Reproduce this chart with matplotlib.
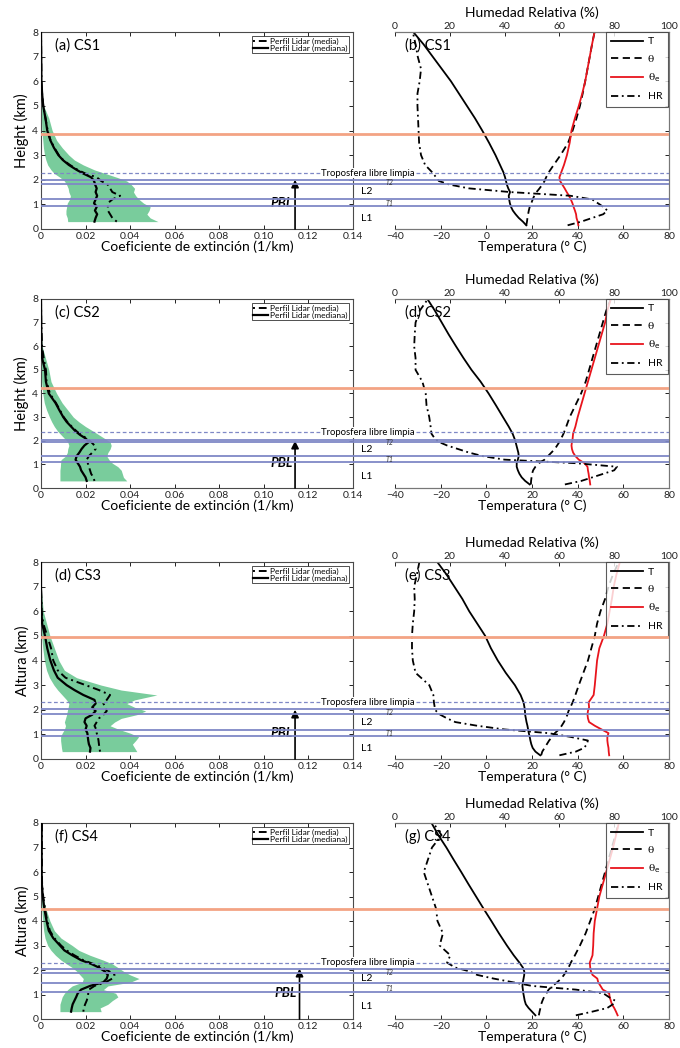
import matplotlib
matplotlib.use("Agg")
import matplotlib.pyplot as plt
import numpy as np

plt.rcParams['font.family'] = ['Lato', 'DejaVu Sans']
plt.rcParams['mathtext.fontset'] = 'dejavusans'

# ---------------- data ----------------
cases = ["CS1", "CS2", "CS3", "CS4"]
left_tags = ["(a)", "(c)", "(d)", "(f)"]
right_tags = ["(b)", "(d)", "(e)", "(g)"]
ylabels = ["Height (km)", "Height (km)", "Altura (km)", "Altura (km)"]

# lidar heights (km)
alt_lidar = [0.3, 0.45, 0.6, 0.75, 0.9, 1.05, 1.2, 1.35, 1.5, 1.65, 1.8, 1.95, 2.1,
             2.25, 2.4, 2.6, 2.8, 3.0, 3.3, 3.6, 4.0, 4.5, 5.0, 5.5, 6.0, 7.0, 8.0]

median_cs1 = [0.0240, 0.0245, 0.0252, 0.0242, 0.0250, 0.0238, 0.0245, 0.0252, 0.0245, 0.0250, 0.0243, 0.0238, 0.0225,
              0.0190, 0.0160, 0.0125, 0.0098, 0.0078, 0.0058, 0.0042, 0.0028, 0.0020, 0.0010, 0.0005, 0.0002, 0.0001, 0.0]
mean_cs1 = [0.0340, 0.0320, 0.0310, 0.0300, 0.0300, 0.0300, 0.0320, 0.0355, 0.0320, 0.0310, 0.0300, 0.0270, 0.0250,
            0.0200, 0.0165, 0.0130, 0.0100, 0.0080, 0.0060, 0.0043, 0.0030, 0.0020, 0.0010, 0.0005, 0.0002, 0.0001, 0.0]
low_cs1 = [0.0120, 0.0118, 0.0112, 0.0112, 0.0115, 0.0118, 0.0128, 0.0132, 0.0125, 0.0122, 0.0115, 0.0105, 0.0085,
           0.0060, 0.0045, 0.0030, 0.0022, 0.0016, 0.0011, 0.0008, 0.0004, 0.0002, 0.0, 0.0, 0.0, 0.0, 0.0]
high_cs1 = [0.0525, 0.0490, 0.0475, 0.0485, 0.0490, 0.0460, 0.0440, 0.0425, 0.0415, 0.0420, 0.0405, 0.0385, 0.0340,
            0.0290, 0.0240, 0.0190, 0.0150, 0.0125, 0.0095, 0.0070, 0.0050, 0.0035, 0.0012, 0.0003, 0.0, 0.0, 0.0]

median_cs2 = [0.0205, 0.0200, 0.0190, 0.0180, 0.0175, 0.0165, 0.0155, 0.0160, 0.0172, 0.0182, 0.0195, 0.0215, 0.0200,
              0.0175, 0.0155, 0.0135, 0.0115, 0.0100, 0.0082, 0.0065, 0.0035, 0.0022, 0.0018, 0.0005, 0.0002, 0.0001, 0.0]
mean_cs2 = [0.0240, 0.0235, 0.0225, 0.0220, 0.0215, 0.0210, 0.0205, 0.0215, 0.0230, 0.0245, 0.0240, 0.0225, 0.0205,
            0.0180, 0.0160, 0.0138, 0.0118, 0.0102, 0.0085, 0.0067, 0.0040, 0.0025, 0.0022, 0.0012, 0.0005, 0.0001, 0.0]
low_cs2 = [0.0085, 0.0085, 0.0085, 0.0085, 0.0087, 0.0088, 0.0090, 0.0110, 0.0118, 0.0120, 0.0125, 0.0120, 0.0105,
           0.0090, 0.0075, 0.0060, 0.0048, 0.0038, 0.0025, 0.0015, 0.0008, 0.0003, 0.0001, 0.0, 0.0, 0.0, 0.0]
high_cs2 = [0.0385, 0.0370, 0.0365, 0.0360, 0.0345, 0.0320, 0.0305, 0.0295, 0.0300, 0.0310, 0.0315, 0.0310, 0.0285,
            0.0260, 0.0235, 0.0200, 0.0170, 0.0145, 0.0120, 0.0095, 0.0070, 0.0045, 0.0035, 0.0020, 0.0005, 0.0, 0.0]

median_cs3 = [0.0220, 0.0222, 0.0215, 0.0212, 0.0210, 0.0208, 0.0200, 0.0205, 0.0195, 0.0200, 0.0230, 0.0245, 0.0230,
              0.0245, 0.0240, 0.0190, 0.0150, 0.0115, 0.0075, 0.0058, 0.0042, 0.0028, 0.0018, 0.0005, 0.0002, 0.0, 0.0]
mean_cs3 = [0.0265, 0.0262, 0.0260, 0.0258, 0.0255, 0.0250, 0.0248, 0.0240, 0.0250, 0.0260, 0.0280, 0.0295, 0.0290,
            0.0280, 0.0295, 0.0310, 0.0260, 0.0200, 0.0110, 0.0075, 0.0055, 0.0045, 0.0028, 0.0010, 0.0003, 0.0, 0.0]
low_cs3 = [0.0095, 0.0092, 0.0090, 0.0088, 0.0088, 0.0095, 0.0105, 0.0110, 0.0105, 0.0110, 0.0115, 0.0118, 0.0122,
           0.0125, 0.0115, 0.0095, 0.0075, 0.0058, 0.0038, 0.0025, 0.0015, 0.0008, 0.0003, 0.0001, 0.0, 0.0, 0.0]
high_cs3 = [0.0430, 0.0420, 0.0410, 0.0425, 0.0438, 0.0400, 0.0350, 0.0310, 0.0330, 0.0360, 0.0430, 0.0470, 0.0420,
            0.0385, 0.0420, 0.0520, 0.0360, 0.0270, 0.0160, 0.0105, 0.0080, 0.0060, 0.0040, 0.0025, 0.0010, 0.0, 0.0]

median_cs4 = [0.0135, 0.0138, 0.0142, 0.0150, 0.0158, 0.0165, 0.0180, 0.0220, 0.0280, 0.0295, 0.0300, 0.0285, 0.0260,
              0.0225, 0.0180, 0.0140, 0.0105, 0.0085, 0.0055, 0.0035, 0.0025, 0.0015, 0.0008, 0.0004, 0.0003, 0.0003, 0.0003]
mean_cs4 = [0.0190, 0.0192, 0.0198, 0.0205, 0.0210, 0.0212, 0.0215, 0.0240, 0.0290, 0.0320, 0.0330, 0.0305, 0.0275,
            0.0235, 0.0190, 0.0150, 0.0115, 0.0090, 0.0060, 0.0040, 0.0028, 0.0018, 0.0010, 0.0005, 0.0004, 0.0004, 0.0004]
low_cs4 = [0.0085, 0.0085, 0.0085, 0.0090, 0.0095, 0.0105, 0.0120, 0.0140, 0.0185, 0.0190, 0.0175, 0.0160, 0.0140,
           0.0115, 0.0090, 0.0065, 0.0045, 0.0030, 0.0018, 0.0012, 0.0008, 0.0004, 0.0001, 0.0, 0.0, 0.0, 0.0]
high_cs4 = [0.0270, 0.0265, 0.0300, 0.0320, 0.0345, 0.0335, 0.0280, 0.0300, 0.0400, 0.0440, 0.0400, 0.0370, 0.0345,
            0.0320, 0.0280, 0.0220, 0.0170, 0.0140, 0.0090, 0.0060, 0.0040, 0.0022, 0.0008, 0.0, 0.0, 0.0, 0.0]

# radiosonde heights (km)
alt_sonde = [0.15, 0.3, 0.45, 0.6, 0.75, 0.9, 1.05, 1.2, 1.35, 1.5, 1.65, 1.8, 1.95, 2.1,
             2.3, 2.6, 3.0, 3.5, 4.0, 4.5, 5.0, 5.5, 6.0, 6.5, 7.0, 7.5, 8.0]

T_cs1 = [17.5, 16.0, 14.2, 12.8, 11.6, 10.8, 10.3, 10.0, 9.8, 10.4, 9.6, 9.0, 8.6, 8.2,
         7.5, 6.0, 4.0, 1.2, -1.8, -5.0, -8.5, -12.0, -15.5, -19.5, -23.5, -27.5, -32.0]
theta_cs1 = [17.5, 17.8, 18.0, 18.3, 18.6, 19.0, 19.7, 20.3, 21.0, 22.0, 23.3, 24.5, 25.5, 26.2,
             27.3, 29.5, 32.5, 35.8, 37.8, 39.5, 41.0, 42.2, 43.3, 44.3, 45.3, 46.3, 47.4]
thetae_cs1 = [40.3, 40.0, 39.5, 39.3, 38.8, 38.2, 37.7, 37.0, 36.2, 35.2, 34.3, 33.3, 32.3, 32.0,
              32.8, 34.0, 35.3, 36.5, 37.3, 38.8, 40.5, 42.0, 43.3, 44.3, 45.3, 46.3, 47.4]
HR_cs1 = [63, 68, 72, 76, 77.5, 76, 74, 72, 64, 42, 27, 20, 16, 15,
          13.6, 11, 9.5, 8.8, 8.6, 8.4, 8.2, 8.2, 9.0, 9.5, 8.3, 7.5, 6.5]

T_cs2 = [19.0, 17.0, 15.5, 14.5, 13.8, 13.3, 13.3, 13.8, 14.2, 14.0, 13.6, 13.2, 12.8, 12.3,
         11.5, 9.8, 7.3, 4.2, 1.0, -2.5, -6.5, -10.0, -13.3, -16.5, -19.5, -22.5, -25.8]
theta_cs2 = [19.5, 19.6, 19.8, 20.0, 20.5, 21.5, 23.0, 25.5, 27.0, 28.5, 30.0, 31.0, 32.0, 32.8,
             33.8, 35.0, 36.5, 39.0, 41.5, 43.5, 45.0, 46.5, 48.0, 49.5, 51.0, 52.5, 54.5]
thetae_cs2 = [45.5, 45.3, 45.0, 44.8, 44.5, 44.3, 43.0, 40.5, 39.0, 38.0, 37.5, 37.3, 37.5, 37.8,
              38.0, 39.0, 40.0, 41.5, 43.0, 44.5, 46.0, 47.5, 49.0, 50.5, 52.0, 53.0, 54.5]
HR_cs2 = [62, 68, 72, 76, 80, 81, 66, 40, 32, 27, 23, 19, 16, 14.5,
          13.3, 13, 12.5, 11.5, 11.2, 10, 7.5, 7.5, 7.0, 7.2, 7.5, 9.0, 12.0]

T_cs3 = [23.6, 21.5, 20.3, 19.7, 19.3, 19.0, 18.6, 18.3, 18.0, 17.6, 17.3, 17.0, 16.9, 16.7,
         16.3, 15.0, 12.5, 8.5, 5.0, 2.0, -0.5, -4.0, -7.5, -10.5, -14.0, -17.5, -21.5]
theta_cs3 = [24.0, 24.5, 25.5, 26.5, 27.5, 28.8, 30.0, 31.8, 33.0, 34.0, 34.8, 35.5, 36.0, 36.8,
             37.8, 39.0, 40.5, 42.5, 44.5, 46.0, 47.5, 48.5, 50.0, 52.0, 53.5, 55.5, 58.0]
thetae_cs3 = [53.8, 53.6, 53.5, 53.2, 53.0, 53.0, 53.5, 50.5, 47.5, 45.0, 44.5, 44.3, 44.5, 45.0,
              44.8, 47.0, 47.5, 48.0, 48.5, 49.5, 51.5, 53.0, 54.0, 55.0, 55.8, 57.0, 58.5]
HR_cs3 = [60, 66, 69, 70, 70.4, 64, 56, 40, 30, 22, 19, 16.5, 15, 14.5,
          14.2, 14.0, 12.5, 7.5, 6.5, 6.2, 6.2, 6.5, 7.0, 7.2, 7.0, 8.0, 8.9]

T_cs4 = [21.5, 20.0, 18.5, 17.3, 16.8, 16.5, 16.2, 16.0, 15.8, 16.0, 16.3, 16.6, 16.6, 16.0,
         14.5, 12.0, 9.0, 5.5, 2.2, -1.2, -4.5, -7.8, -11.0, -14.3, -17.5, -21.0, -24.0]
theta_cs4 = [23.0, 23.3, 23.7, 24.0, 24.6, 25.3, 26.3, 27.3, 29.0, 31.0, 32.8, 34.0, 35.0, 36.0,
             37.0, 38.8, 41.0, 43.5, 45.5, 47.5, 49.0, 50.5, 52.0, 53.5, 55.0, 56.5, 58.0]
thetae_cs4 = [57.5, 56.8, 56.0, 55.0, 54.5, 54.0, 53.8, 51.0, 50.0, 49.0, 48.6, 46.5, 45.8, 45.5,
              45.3, 46.5, 46.8, 47.0, 47.5, 48.5, 49.5, 51.0, 52.5, 54.0, 55.5, 56.8, 58.0]
HR_cs4 = [66, 72, 77.5, 79.5, 80.3, 78, 76, 66, 50, 43, 36, 30, 27, 22,
          19, 20.2, 16.3, 17.5, 15.5, 15, 13.5, 12.0, 10.5, 12.0, 13.5, 17.0, 14.0]

# layer heights (km)
orange_top = [3.85, 4.25, 4.95, 4.5]
free_trop = [2.27, 2.35, 2.3, 2.3]
T2_layer = [(2.01, 1.83), (2.05, 1.93), (2.03, 1.83), (2.05, 1.86)]
T1_layer = [(1.20, 0.94), (1.35, 1.10), (1.17, 0.93), (1.45, 1.12)]
pbl_top = [2.0, 2.0, 2.0, 2.05]
pbl_x = [0.114, 0.114, 0.114, 0.116]

medians = [median_cs1, median_cs2, median_cs3, median_cs4]
means = [mean_cs1, mean_cs2, mean_cs3, mean_cs4]
lows = [low_cs1, low_cs2, low_cs3, low_cs4]
highs = [high_cs1, high_cs2, high_cs3, high_cs4]
Ts = [T_cs1, T_cs2, T_cs3, T_cs4]
thetas = [theta_cs1, theta_cs2, theta_cs3, theta_cs4]
thetaes = [thetae_cs1, thetae_cs2, thetae_cs3, thetae_cs4]
HRs = [HR_cs1, HR_cs2, HR_cs3, HR_cs4]

# ---------------- style ----------------
GREEN = '#79cc9c'
ORANGE = '#f3a384'
BLUE = '#7f88c6'
SPINE = '#4a4a4a'
NARROW = ['Liberation Sans Narrow', 'Lato', 'DejaVu Sans']

W, H = 680, 1048
fig = plt.figure(figsize=(W / 100, H / 100), dpi=100)
rows_px = [(32, 229), (299, 488), (562, 759), (823, 1019)]
L_x0, L_x1 = 41, 353
R_x0, R_x1 = 395, 669

mean_ls = (0, (1, 2, 4, 2))

for i in range(4):
    top, bot = rows_px[i]
    b = 1 - bot / H
    h = (bot - top) / H

    # ---- left panel: lidar ----
    axl = fig.add_axes([L_x0 / W, b, (L_x1 - L_x0) / W, h])
    axl.set_facecolor('none')
    axl.fill_betweenx(alt_lidar, lows[i], highs[i], color=GREEN, lw=0, zorder=1)
    axl.plot(means[i], alt_lidar, color='black', ls=mean_ls, lw=1.4, zorder=3,
             label='Perfil Lidar (media)')
    axl.plot(medians[i], alt_lidar, color='black', ls='-', lw=1.6, zorder=3,
             label='Perfil Lidar (mediana)')
    axl.set_xlim(0, 0.14)
    axl.set_ylim(0, 8)
    axl.set_xticks(np.arange(0, 0.141, 0.02))
    axl.set_xticklabels(['0', '0.02', '0.04', '0.06', '0.08', '0.10', '0.12', '0.14'])
    axl.set_yticks(range(0, 9))
    axl.tick_params(direction='in', top=True, right=True, length=3, width=0.7,
                    labelsize=7.5, colors='#222222', pad=2)
    for s in axl.spines.values():
        s.set_color(SPINE)
        s.set_linewidth(0.8)
    axl.set_xlabel('Coeficiente de extinción (1/km)', fontsize=10, labelpad=0)
    axl.set_ylabel(ylabels[i], fontsize=10.5, labelpad=2)
    axl.text(0.045, 0.93, f'{left_tags[i]} {cases[i]}', transform=axl.transAxes,
             fontsize=10.5, va='center', ha='left')
    leg = axl.legend(loc='upper right', fontsize=5.3, frameon=True, fancybox=False,
                     edgecolor='black', borderpad=0.15, labelspacing=0.05,
                     handlelength=1.8, handletextpad=0.2, borderaxespad=0.5,
                     prop={'family': NARROW, 'size': 6})
    leg.get_frame().set_linewidth(0.6)
    # PBL arrow
    axl.annotate('', xy=(pbl_x[i], pbl_top[i]), xytext=(pbl_x[i], 0),
                 arrowprops=dict(arrowstyle='-|>', color='black', lw=1.2,
                                 mutation_scale=11, shrinkA=0, shrinkB=0), zorder=4)
    axl.text(pbl_x[i] - 0.0012, 1.05, 'PBL', fontsize=9.5, fontweight='bold',
             fontstyle='italic', ha='right', va='center', zorder=4)

    # ---- right panel: radiosonde ----
    axr = fig.add_axes([R_x0 / W, b, (R_x1 - R_x0) / W, h])
    axr.set_facecolor('none')
    axr.plot(Ts[i], alt_sonde, color='black', lw=1.3, label='T')
    axr.plot(thetas[i], alt_sonde, color='black', ls=(0, (4, 2.5)), lw=1.3, label='θ')
    axr.plot(thetaes[i], alt_sonde, color='#e8141c', lw=1.3, label='θe')
    axr.set_xlim(-40, 80)
    axr.set_ylim(0, 8)
    axr.set_xticks(range(-40, 81, 20))
    axr.set_yticks(range(0, 9))
    axr.tick_params(direction='in', left=False, labelleft=False, right=True,
                    length=3, width=0.7, labelsize=7.5, colors='#222222', pad=2)
    axr.spines['left'].set_visible(False)
    for k in ['bottom', 'top', 'right']:
        axr.spines[k].set_color('#777777')
        axr.spines[k].set_linewidth(0.8)
    axr.set_xlabel('Temperatura (° C)', fontsize=10, labelpad=0)

    axh = axr.twiny()
    axh.set_facecolor('none')
    axh.plot(HRs[i], alt_sonde, color='black', ls=(0, (4, 2, 1, 2)), lw=1.3, label='HR')
    axh.set_xlim(0, 100)
    axh.set_xticks(range(0, 101, 20))
    axh.tick_params(direction='in', length=3, width=0.7, labelsize=7.5,
                    colors='#222222', pad=1)
    axh.spines['left'].set_visible(False)
    for k in ['bottom', 'top', 'right']:
        axh.spines[k].set_color('#777777')
        axh.spines[k].set_linewidth(0.8)
    axh.set_xlabel('Humedad Relativa (%)', fontsize=10, labelpad=3)
    axh.text(0.035, 0.93, f'{right_tags[i]} {cases[i]}', transform=axh.transAxes,
             fontsize=10.5, va='center', ha='left')

    handles = axr.get_legend_handles_labels()[0] + axh.get_legend_handles_labels()[0]
    labels = ['T', 'θ', 'θ$_\\mathrm{e}$', 'HR']
    leg2 = axh.legend(handles, labels, loc='upper right', bbox_to_anchor=(0.995, 1.0),
                      fontsize=7.5, frameon=True, fancybox=False, edgecolor='#333333',
                      borderpad=0.5, labelspacing=0.75, handlelength=3.0,
                      handletextpad=0.5, borderaxespad=0)
    leg2.get_frame().set_linewidth(0.8)
    for t in leg2.get_texts()[1:3]:
        t.set_family(['DejaVu Serif'])

    # ---- overlay: layer lines spanning both panels ----
    axo = fig.add_axes([L_x0 / W, b, (R_x1 - L_x0) / W, h], zorder=5)
    axo.set_xlim(0, 1)
    axo.set_ylim(0, 8)
    axo.axis('off')
    axo.axhline(orange_top[i], color=ORANGE, lw=2.0)
    axo.axhline(free_trop[i], color=BLUE, lw=0.9, ls=(0, (3, 2)))
    for yv in T2_layer[i] + T1_layer[i]:
        axo.axhline(yv, color=BLUE, lw=1.3)
    fx = lambda px: (px - L_x0) / (R_x1 - L_x0)
    axo.text(fx(415), free_trop[i], 'Troposfera libre limpia', fontsize=6.8,
             family=NARROW, ha='right', va='center',
             bbox=dict(fc='white', ec='none', pad=0.6))
    axo.text(fx(390), (T2_layer[i][0] + T2_layer[i][1]) / 2 - 0.05, 'T2', fontsize=5,
             fontstyle='italic', ha='center', va='center', color='#333333')
    axo.text(fx(390), (T1_layer[i][0] + T1_layer[i][1]) / 2 - 0.03, 'T1', fontsize=5,
             fontstyle='italic', ha='center', va='center', color='#333333')
    axo.text(fx(367), (T2_layer[i][1] + T1_layer[i][0]) / 2, 'L2', fontsize=7.5,
             family=NARROW, ha='center', va='center')
    axo.text(fx(367), T1_layer[i][1] / 2 - 0.05, 'L1', fontsize=7.5,
             family=NARROW, ha='center', va='center')

fig.savefig('out.png', dpi=100)
